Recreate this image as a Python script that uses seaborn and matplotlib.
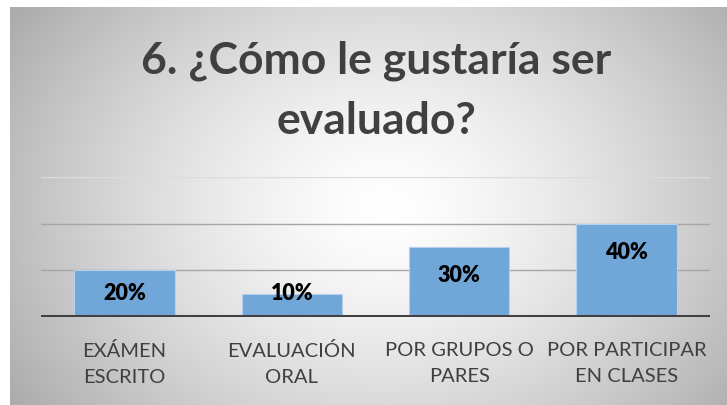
import numpy as np
import pandas as pd
import matplotlib
matplotlib.use("Agg")
import matplotlib.pyplot as plt
import seaborn as sns

# data
categories = ["EXÁMEN\nESCRITO", "EVALUACIÓN\nORAL", "POR GRUPOS O\nPARES", "POR PARTICIPAR\nEN CLASES"]
percent = [20, 10, 30, 40]
gridlines = [20, 40, 60]

df = pd.DataFrame({"cat": categories, "pct": percent})

sns.set_theme(style="white")
plt.rcParams["font.family"] = ["Lato", "DejaVu Sans"]

W, H = 727, 406
fig = plt.figure(figsize=(W / 100, H / 100), dpi=100)
fig.patch.set_facecolor("white")

# radial grey background of the chart area
bg = fig.add_axes([10 / W, 0, (W - 10) / W, (H - 8) / H])
yy, xx = np.mgrid[0:398, 0:717]
r = np.sqrt(((xx - 375) / 370) ** 2 + ((yy - 200) / 290) ** 2)
shade = 255 - 64 * np.clip(r, 0, 1.2) ** 1.4
bg.imshow(np.dstack([shade] * 3).astype(np.uint8), aspect="auto", interpolation="bilinear")
bg.axis("off")

ax = fig.add_axes([41 / W, 88 / H, 669 / W, 140 / H])
ax.set_facecolor("none")

sns.barplot(data=df, x="cat", y="pct", color="#70A7D8", width=0.6, saturation=1,
            edgecolor="#b4d0ee", linewidth=0.8, ax=ax, zorder=3)

for g in gridlines:
    ax.axhline(g, color="#a6a6a6" if g < 60 else "#dcdcdc", lw=1.0, zorder=1)
ax.axhline(0, color="#404040", lw=2.9, zorder=4)

ax.set_xlim(-0.5, 3.5)
ax.set_ylim(0, 60)
ax.set_yticks([])
ax.set_xlabel("")
ax.set_ylabel("")
for s in ax.spines.values():
    s.set_visible(False)

ax.tick_params(axis="x", length=0, pad=17)
ax.set_xticks(range(len(categories)))
ax.set_xticklabels(categories, fontsize=14.5, color="#404040", linespacing=1.65)

for i, v in enumerate(percent):
    ax.text(i, max(v - 12, 10.3), f"{v}%", ha="center", va="center",
            fontsize=15.5, fontweight="heavy", color="black", zorder=5)

fig.text(376 / W, 1 - 91 / H, "6. ¿Cómo le gustaría ser\nevaluado?", ha="center", va="center",
         fontsize=32, fontweight="bold", color="#404040", linespacing=1.6)

fig.savefig("out.png", dpi=100)
